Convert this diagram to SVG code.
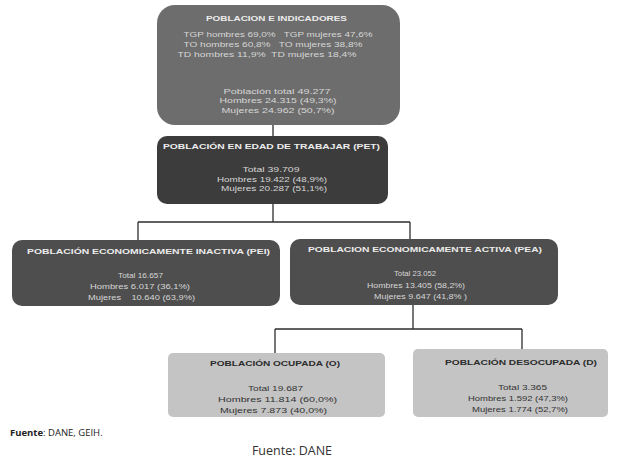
<svg xmlns="http://www.w3.org/2000/svg" width="625" height="462" viewBox="0 0 625 462">
<style>
text{font-family:"Liberation Sans","Open Sans",sans-serif;text-anchor:middle}
.t{font-weight:bold;font-size:8px;fill:#ececec}
.b{font-size:8px;fill:#d6d6d6}
.td{font-weight:bold;font-size:8px;fill:#2b2b2b}
.bd{font-size:8px;fill:#333}
.c{stroke:#2e2e2e;stroke-width:1.3;fill:none}
</style>
<rect width="625" height="462" fill="#fff"/>
<g id="connectors">
<path class="c" d="M273 125V136"/>
<path class="c" d="M273 204V222M138 222H410M138 222V240M410 222V239"/>
<path class="c" d="M413 305V329M275 329H522M275 329V353M522 329V349"/>
</g>
<g id="poblacion-indicadores">
<rect x="157" y="5" width="243" height="120" rx="18" fill="#6d6d6d"/>
<text class="t" x="276.5" y="21" textLength="141" lengthAdjust="spacingAndGlyphs">POBLACION E INDICADORES</text>
<text class="b" x="278" y="37" textLength="189" lengthAdjust="spacingAndGlyphs" xml:space="preserve">TGP hombres 69,0%   TGP mujeres 47,6%</text>
<text class="b" x="273" y="47" textLength="179" lengthAdjust="spacingAndGlyphs" xml:space="preserve">TO hombres 60,8%   TO mujeres 38,8%</text>
<text class="b" x="267" y="56.5" textLength="179" lengthAdjust="spacingAndGlyphs" xml:space="preserve">TD hombres 11,9%  TD mujeres 18,4%</text>
<text class="b" x="277" y="94" textLength="107" lengthAdjust="spacingAndGlyphs">Población total 49.277</text>
<text class="b" x="278" y="103.3" textLength="117" lengthAdjust="spacingAndGlyphs">Hombres 24.315 (49,3%)</text>
<text class="b" x="278" y="112.6" textLength="113" lengthAdjust="spacingAndGlyphs">Mujeres 24.962 (50,7%)</text>
</g>
<g id="pet">
<rect x="157" y="136" width="231" height="68" rx="10" fill="#3c3c3c"/>
<text class="t" x="271.5" y="148.5" textLength="217" lengthAdjust="spacingAndGlyphs">POBLACIÓN EN EDAD DE TRABAJAR (PET)</text>
<text class="b" x="271" y="172" textLength="57" lengthAdjust="spacingAndGlyphs">Total 39.709</text>
<text class="b" x="272" y="181.5" textLength="110" lengthAdjust="spacingAndGlyphs">Hombres 19.422 (48,9%)</text>
<text class="b" x="274" y="191" textLength="106" lengthAdjust="spacingAndGlyphs">Mujeres 20.287 (51,1%)</text>
</g>
<g id="pei">
<rect x="12" y="240" width="268" height="66" rx="10" fill="#4e4e4e"/>
<text class="t" x="148.5" y="254" textLength="243" lengthAdjust="spacingAndGlyphs">POBLACIÓN ECONOMICAMENTE INACTIVA (PEI)</text>
<text class="b" x="140.5" y="278" textLength="45" lengthAdjust="spacingAndGlyphs">Total 16.657</text>
<text class="b" x="140" y="289" textLength="100" lengthAdjust="spacingAndGlyphs">Hombres 6.017 (36,1%)</text>
<text class="b" x="141.5" y="300" textLength="107" lengthAdjust="spacingAndGlyphs" xml:space="preserve">Mujeres    10.640 (63,9%)</text>
</g>
<g id="pea">
<rect x="290" y="239" width="268" height="66" rx="10" fill="#4e4e4e"/>
<text class="t" x="425" y="252" textLength="234" lengthAdjust="spacingAndGlyphs">POBLACION ECONOMICAMENTE ACTIVA (PEA)</text>
<text class="b" x="415" y="276" textLength="42" lengthAdjust="spacingAndGlyphs">Total 23.052</text>
<text class="b" x="416" y="288" textLength="98" lengthAdjust="spacingAndGlyphs">Hombres 13.405 (58,2%)</text>
<text class="b" x="420.5" y="299" textLength="93" lengthAdjust="spacingAndGlyphs">Mujeres 9.647 (41,8% )</text>
</g>
<g id="ocupada">
<rect x="168" y="353" width="217" height="64" rx="5" fill="#c4c4c4"/>
<text class="td" x="275" y="366" textLength="130" lengthAdjust="spacingAndGlyphs">POBLACIÓN OCUPADA (O)</text>
<text class="bd" x="275.5" y="391" textLength="55" lengthAdjust="spacingAndGlyphs">Total 19.687</text>
<text class="bd" x="277.5" y="402" textLength="119" lengthAdjust="spacingAndGlyphs">Hombres 11.814 (60,0%)</text>
<text class="bd" x="273.5" y="413" textLength="107" lengthAdjust="spacingAndGlyphs">Mujeres 7.873 (40,0%)</text>
</g>
<g id="desocupada">
<rect x="413" y="349" width="195" height="68" rx="5" fill="#c4c4c4"/>
<text class="td" x="521" y="365" textLength="152" lengthAdjust="spacingAndGlyphs">POBLACIÓN DESOCUPADA (D)</text>
<text class="bd" x="522.5" y="390" textLength="49" lengthAdjust="spacingAndGlyphs">Total 3.365</text>
<text class="bd" x="518" y="401" textLength="100" lengthAdjust="spacingAndGlyphs">Hombres 1.592 (47,3%)</text>
<text class="bd" x="520" y="412" textLength="96" lengthAdjust="spacingAndGlyphs">Mujeres 1.774 (52,7%)</text>
</g>
<text x="10" y="436" style="text-anchor:start;font-family:'Open Sans','Liberation Sans',sans-serif;font-size:9.5px;fill:#222"><tspan font-weight="bold">Fuente</tspan>: DANE, GEIH.</text>
<text x="292" y="455" style="font-family:'Open Sans','Liberation Sans',sans-serif;font-size:12.5px;fill:#333">Fuente: DANE</text>
</svg>
